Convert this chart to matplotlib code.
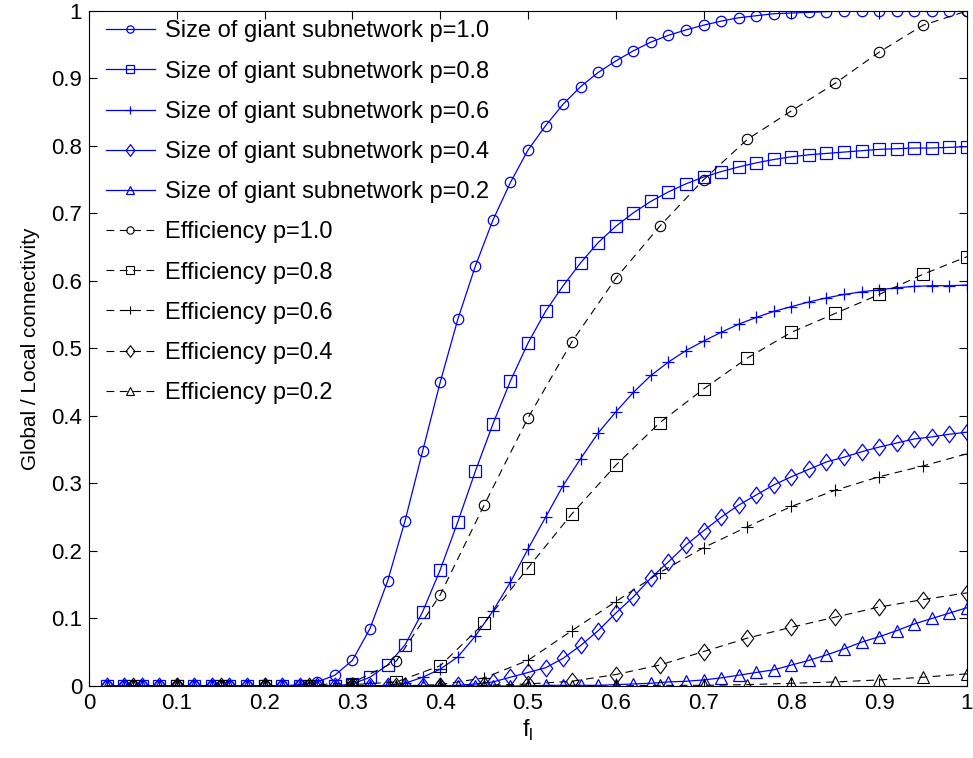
import numpy as np
import matplotlib
matplotlib.use("Agg")
import matplotlib.pyplot as plt
from matplotlib.path import Path

plt.rcParams['font.family'] = ['Liberation Sans', 'DejaVu Sans']

# sampling grids
f_size = np.round(np.linspace(0.02, 1.0, 50), 2)
f_eff = np.round(np.linspace(0.05, 1.0, 20), 2)

# size of giant subnetwork (blue, solid)
giant_10 = [0]*11 + [0.002, 0.006, 0.016, 0.038, 0.085, 0.155, 0.245, 0.348, 0.45, 0.543,
            0.622, 0.69, 0.746, 0.794, 0.83, 0.862, 0.888, 0.909, 0.926, 0.941,
            0.954, 0.964, 0.972, 0.979, 0.985, 0.99, 0.993, 0.996, 0.997, 0.998,
            0.999] + [1.0]*8
giant_08 = [0]*14 + [0.003, 0.013, 0.031, 0.061, 0.11, 0.172, 0.243, 0.318, 0.388, 0.452,
            0.508, 0.555, 0.593, 0.627, 0.657, 0.681, 0.701, 0.718, 0.732, 0.744,
            0.754, 0.762, 0.769, 0.775, 0.78, 0.784, 0.787, 0.789, 0.791, 0.793,
            0.795, 0.796, 0.797, 0.797, 0.798, 0.799]
giant_06 = [0]*16 + [0.001, 0.004, 0.013, 0.025, 0.043, 0.074, 0.111, 0.154, 0.203, 0.25,
            0.297, 0.337, 0.375, 0.406, 0.435, 0.46, 0.48, 0.497, 0.511, 0.524,
            0.536, 0.546, 0.555, 0.562, 0.569, 0.575, 0.58, 0.584, 0.587, 0.59,
            0.592, 0.593, 0.593, 0.594]
giant_04 = [0]*20 + [0.001, 0.003, 0.006, 0.013, 0.02, 0.027, 0.041, 0.06, 0.082, 0.108,
            0.132, 0.16, 0.184, 0.209, 0.23, 0.25, 0.268, 0.283, 0.298, 0.31,
            0.321, 0.332, 0.339, 0.347, 0.354, 0.36, 0.366, 0.369, 0.373, 0.376]
giant_02 = [0]*25 + [0.001]*4 + [0.002, 0.003, 0.004, 0.006, 0.007, 0.009, 0.012, 0.016,
            0.02, 0.024, 0.031, 0.038, 0.046, 0.055, 0.065, 0.073, 0.082, 0.092,
            0.10, 0.108, 0.116]

# efficiency (black, dashed)
eff_10 = [0]*4 + [0.001, 0.005, 0.037, 0.135, 0.268, 0.397, 0.51, 0.604, 0.681, 0.75,
          0.81, 0.852, 0.893, 0.939, 0.979, 1.0]
eff_08 = [0]*5 + [0.002, 0.006, 0.03, 0.093, 0.175, 0.255, 0.327, 0.39, 0.44, 0.486,
          0.524, 0.552, 0.58, 0.61, 0.636]
eff_06 = [0]*7 + [0.002, 0.012, 0.038, 0.082, 0.125, 0.168, 0.205, 0.236, 0.266, 0.29,
          0.31, 0.326, 0.344]
eff_04 = [0]*8 + [0.001, 0.003, 0.007, 0.017, 0.031, 0.051, 0.071, 0.087, 0.102, 0.117,
          0.128, 0.138]
eff_02 = [0]*12 + [0.001, 0.001, 0.002, 0.004, 0.006, 0.009, 0.013, 0.018]

# matlab-like diamond, a bit wider than mpl's 'd'
diamond = Path([(0, 1), (0.75, 0), (0, -1), (-0.75, 0), (0, 1)],
               [Path.MOVETO, Path.LINETO, Path.LINETO, Path.LINETO, Path.CLOSEPOLY])

p_labels = ['1.0', '0.8', '0.6', '0.4', '0.2']
markers = ['o', 's', '+', diamond, '^']
msizes = [7.5, 8, 9, 12, 8]
giants = [giant_10, giant_08, giant_06, giant_04, giant_02]
effs = [eff_10, eff_08, eff_06, eff_04, eff_02]

fig = plt.figure(figsize=(9.73, 7.58), dpi=100)
ax = fig.add_axes([0.0915, 0.095, 0.9023, 0.8905])

for g, m, ms, p in zip(giants, markers, msizes, p_labels):
    ax.plot(f_size, g, color='blue', marker=m, markersize=ms, mfc='none',
            mew=0.9, lw=0.9, label='Size of giant subnetwork p=' + p)
for e, m, ms, p in zip(effs, markers, msizes, p_labels):
    ax.plot(f_eff, e, color='black', marker=m, markersize=ms, mfc='none',
            mew=0.8, lw=0.8, ls=(0, (7, 5)), label='Efficiency p=' + p)

ax.set_xlim(0, 1)
ax.set_ylim(0, 1)
ticks = np.round(np.linspace(0, 1, 11), 1)
tick_txt = ['0'] + ['%.1f' % t for t in ticks[1:-1]] + ['1']
ax.set_xticks(ticks)
ax.set_xticklabels(tick_txt)
ax.set_yticks(ticks)
ax.set_yticklabels(tick_txt)
ax.tick_params(direction='in', top=True, right=True, length=6, width=0.8,
               labelsize=16, pad=5)
for s in ax.spines.values():
    s.set_linewidth(0.8)

ax.set_xlabel(r'f$_\mathregular{l}$', fontsize=17, labelpad=3)
ax.set_ylabel('Global / Local connectivity', fontsize=15, labelpad=8)

ax.legend(loc='upper left', bbox_to_anchor=(0.0, 1.0105), frameon=False,
          fontsize=17, markerscale=0.7, handlelength=2.1, handletextpad=0.4,
          labelspacing=0.77, borderaxespad=0.4, borderpad=0.3)

fig.savefig('out.png', dpi=100)
